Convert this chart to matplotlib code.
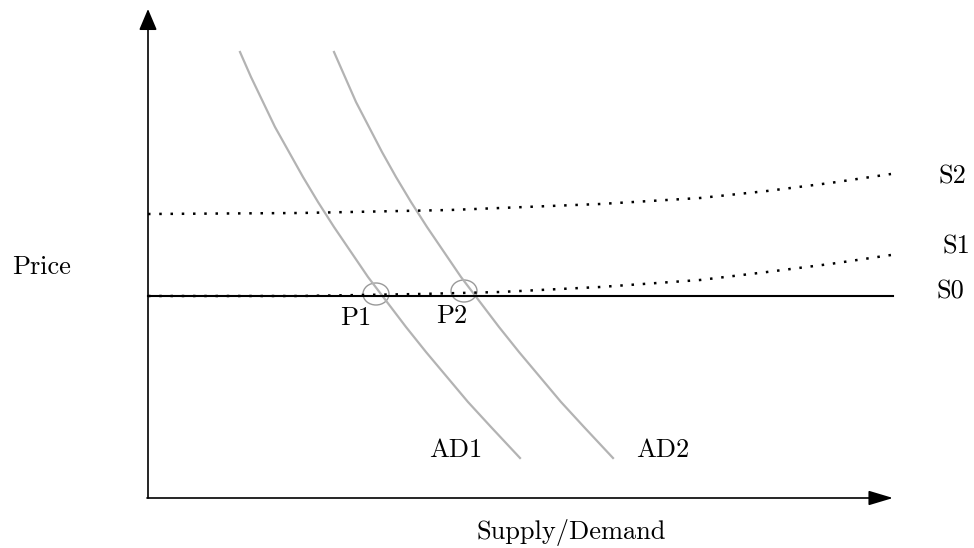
import matplotlib
matplotlib.use("Agg")
import matplotlib.pyplot as plt
from matplotlib.patches import Ellipse

plt.rcParams['font.family'] = ['cmr10', 'DejaVu Serif']

# diagram coordinates (x right, y up)
ad_y = [496, 471, 446, 421, 396, 371, 346, 321, 296, 271, 246, 221, 196, 171, 146, 121, 90]
ad1_x = [240, 251, 263, 275, 289, 303, 318, 334, 351, 368, 387, 406, 426, 447, 468, 491, 520]
ad2_x = [334, 345, 356, 369, 382, 396, 411, 427, 444, 461, 480, 499, 519, 540, 561, 584, 613]

s0_x = [148, 893]
s0_y = [252, 252]
s1_x = [148, 300, 420, 500, 600, 700, 767, 830, 891]
s1_y = [252, 252, 254, 256, 261, 268, 276, 284, 293]
s2_x = [148, 300, 450, 600, 700, 767, 830, 891]
s2_y = [334, 335, 338, 344, 350, 357, 365, 374]

eq_x = [376, 464]
eq_y = [254, 257]
eq_labels = ['P1', 'P2']

fig = plt.figure(figsize=(9.74, 5.48), dpi=100)
ax = fig.add_axes([0, 0, 1, 1])
ax.set_xlim(0, 974)
ax.set_ylim(0, 548)
ax.axis('off')

# axes with arrows
ax.annotate('', xy=(148, 539), xytext=(148, 50),
            arrowprops=dict(arrowstyle='-|>,head_length=1.3,head_width=0.55', color='black',
                            lw=1.2, mutation_scale=10, shrinkA=0, shrinkB=0))
ax.annotate('', xy=(893, 50), xytext=(147, 50),
            arrowprops=dict(arrowstyle='-|>,head_length=1.5,head_width=0.45', color='black',
                            lw=1.2, mutation_scale=10, shrinkA=0, shrinkB=0))

ax.plot(ad1_x, ad_y, color='#b3b3b3', lw=1.6)
ax.plot(ad2_x, ad_y, color='#b3b3b3', lw=1.6)
ax.plot(s0_x, s0_y, color='black', lw=1.5)
ax.plot(s1_x, s1_y, color='black', lw=1.8, linestyle=(0, (1, 3.5)))
ax.plot(s2_x, s2_y, color='black', lw=1.8, linestyle=(0, (1, 3.5)))

for x, y in zip(eq_x, eq_y):
    ax.add_patch(Ellipse((x, y), 26, 22, fill=False, edgecolor='#999999', lw=1))

fs = 19
ax.text(356, 230, 'P1', fontsize=fs, ha='center', va='center')
ax.text(452, 232, 'P2', fontsize=fs, ha='center', va='center')
ax.text(937, 256, 'S0', fontsize=fs, ha='left', va='center')
ax.text(942, 301, 'S1', fontsize=fs, ha='left', va='center')
ax.text(938, 371, 'S2', fontsize=fs, ha='left', va='center')
ax.text(456, 98, 'AD1', fontsize=fs, ha='center', va='center')
ax.text(663, 98, 'AD2', fontsize=fs, ha='center', va='center')
ax.text(12, 281, 'Price', fontsize=fs, ha='left', va='center')
ax.text(477, 16, 'Supply/Demand', fontsize=fs, ha='left', va='center')

fig.savefig('out.png', dpi=100)
